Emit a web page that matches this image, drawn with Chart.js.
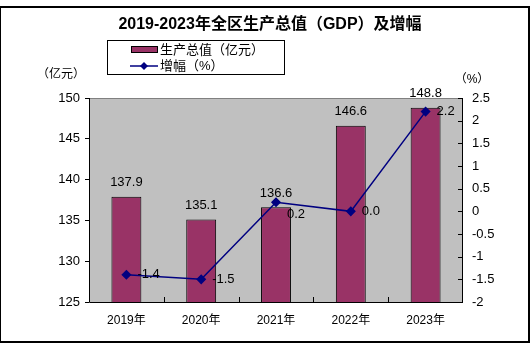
<!DOCTYPE html>
<html>
<head>
<meta charset="utf-8">
<script src="https://cdn.jsdelivr.net/npm/chart.js@4"></script>
<style>
    html, body { margin: 0; padding: 0; background: #fff; }
    #wrap { width: 531px; height: 350px; position: relative; }
</style>
</head>
<body>
<div id="wrap"><canvas id="gdpChart" width="531" height="350"></canvas></div>
<script>
// Chart data
const years = ['2019年', '2020年', '2021年', '2022年', '2023年'];
const gdpValues = [137.9, 135.1, 136.6, 146.6, 148.8];
const growthValues = [-1.4, -1.5, 0.2, 0.0, 2.2];
const gdpTicks = [125, 130, 135, 140, 145, 150];
const growthTicks = [-2, -1.5, -1, -0.5, 0, 0.5, 1, 1.5, 2, 2.5];

const fontNum = 'Arial, "Liberation Sans", sans-serif';
const fontCjk = '"Liberation Sans", "Noto Sans CJK SC", sans-serif';

// Draws frame, plot background, title, units, legend, custom ticks and value labels
const decorPlugin = {
    id: 'decor',
    beforeDraw(chart) {
        const ctx = chart.ctx;
        const a = chart.chartArea;
        ctx.save();
        ctx.fillStyle = '#fff';
        ctx.fillRect(0, 0, chart.width, chart.height);
        // outer frame
        ctx.strokeStyle = '#000';
        ctx.lineWidth = 2;
        ctx.strokeRect(0, 7, 529, 335);
        // plot background
        ctx.fillStyle = '#c0c0c0';
        ctx.fillRect(a.left, a.top, a.right - a.left, a.bottom - a.top);
        ctx.restore();
    },
    afterDatasetsDraw(chart) {
        const ctx = chart.ctx;
        const a = chart.chartArea;
        const yR = chart.scales.y1;
        const x = chart.scales.x;
        ctx.save();

        // plot border: top gray, others black
        ctx.lineWidth = 1;
        ctx.strokeStyle = '#808080';
        ctx.beginPath();
        ctx.moveTo(a.left, a.top + 0.5);
        ctx.lineTo(a.right, a.top + 0.5);
        ctx.stroke();
        ctx.strokeStyle = '#000';
        ctx.beginPath();
        ctx.moveTo(a.left + 0.5, a.top);
        ctx.lineTo(a.left + 0.5, a.bottom + 0.5);
        ctx.lineTo(a.right - 0.5, a.bottom + 0.5);
        ctx.lineTo(a.right - 0.5, a.top);
        ctx.stroke();

        // right axis ticks (inside)
        ctx.beginPath();
        growthTicks.forEach(function(v) {
            const py = Math.round(yR.getPixelForValue(v)) + 0.5;
            ctx.moveTo(a.right - 5, py);
            ctx.lineTo(a.right, py);
        });
        // x axis ticks between categories (inside)
        for (let i = 1; i < years.length; i++) {
            const px = Math.round((x.getPixelForValue(i - 1) + x.getPixelForValue(i)) / 2) + 0.5;
            ctx.moveTo(px, a.bottom);
            ctx.lineTo(px, a.bottom - 5);
        }
        ctx.stroke();

        // bar value labels
        ctx.fillStyle = '#000';
        ctx.font = '13px ' + fontNum;
        ctx.textAlign = 'center';
        ctx.textBaseline = 'middle';
        const barMeta = chart.getDatasetMeta(0);
        barMeta.data.forEach(function(bar, i) {
            ctx.fillText(gdpValues[i].toFixed(1), bar.x, bar.y - 14);
        });

        // growth value labels
        ctx.textAlign = 'left';
        const lineMeta = chart.getDatasetMeta(1);
        lineMeta.data.forEach(function(pt, i) {
            const dy = i === 2 ? 12 : 0;
            ctx.fillText(growthValues[i].toFixed(1), pt.x + 11, pt.y + dy);
        });

        ctx.restore();
    },
    afterDraw(chart) {
        const ctx = chart.ctx;
        ctx.save();
        ctx.fillStyle = '#000';
        ctx.textBaseline = 'middle';

        // title
        ctx.font = 'bold 16px ' + fontCjk;
        ctx.textAlign = 'center';
        ctx.fillText('2019-2023年全区生产总值（GDP）及增幅', 270, 25);

        // unit labels
        ctx.font = '12px ' + fontCjk;
        ctx.fillText('（亿元）', 61, 75);
        ctx.fillText('（%）', 472, 80);

        // legend
        ctx.lineWidth = 1;
        ctx.strokeStyle = '#000';
        ctx.strokeRect(107.5, 40.5, 177, 34);
        ctx.fillStyle = '#993366';
        ctx.fillRect(131, 46, 27, 7);
        ctx.strokeRect(131.5, 46.5, 26, 6);
        ctx.strokeStyle = '#000080';
        ctx.lineWidth = 1.5;
        ctx.beginPath();
        ctx.moveTo(130, 66);
        ctx.lineTo(158, 66);
        ctx.stroke();
        ctx.fillStyle = '#000080';
        ctx.beginPath();
        ctx.moveTo(144, 62);
        ctx.lineTo(148, 66);
        ctx.lineTo(144, 70);
        ctx.lineTo(140, 66);
        ctx.closePath();
        ctx.fill();
        ctx.fillStyle = '#000';
        ctx.textAlign = 'left';
        ctx.font = '13px ' + fontCjk;
        ctx.fillText(chart.data.datasets[0].label, 160, 50);
        ctx.fillText(chart.data.datasets[1].label, 160, 66);
        ctx.restore();
    }
};

const ctx = document.getElementById('gdpChart').getContext('2d');
const gdpChart = new Chart(ctx, {
    type: 'bar',
    data: {
        labels: years,
        datasets: [{
            label: '生产总值（亿元）',
            data: gdpValues,
            backgroundColor: '#993366',
            borderColor: '#000',
            borderWidth: 1,
            borderSkipped: false,
            barPercentage: 0.8,
            categoryPercentage: 0.5,
            yAxisID: 'y',
            order: 2
        }, {
            type: 'line',
            label: '增幅（%）',
            data: growthValues,
            borderColor: '#000080',
            backgroundColor: '#000080',
            borderWidth: 1.5,
            pointStyle: 'rectRot',
            pointRadius: 4,
            pointHoverRadius: 4,
            tension: 0,
            yAxisID: 'y1',
            order: 1
        }]
    },
    options: {
        responsive: false,
        animation: false,
        devicePixelRatio: 1,
        layout: { padding: { left: 0, right: 0, top: 98, bottom: 0 } },
        plugins: {
            legend: { display: false },
            title: { display: false },
            tooltip: { enabled: false }
        },
        scales: {
            x: {
                grid: { display: false, drawTicks: false },
                border: { display: false },
                ticks: {
                    color: '#000',
                    font: { size: 12, family: fontCjk },
                    padding: 11
                },
                afterFit(scale) { scale.height = 48; }
            },
            y: {
                position: 'left',
                min: 125,
                max: 150,
                afterBuildTicks(scale) {
                    scale.ticks = gdpTicks.map(function(v) { return { value: v }; });
                },
                grid: { drawOnChartArea: false, tickLength: 4, color: '#000' },
                border: { display: false },
                ticks: {
                    color: '#000',
                    font: { size: 13, family: fontNum },
                    padding: 5,
                    callback: function(v) { return String(v); }
                },
                afterFit(scale) { scale.width = 89; }
            },
            y1: {
                position: 'right',
                min: -2,
                max: 2.5,
                afterBuildTicks(scale) {
                    scale.ticks = growthTicks.map(function(v) { return { value: v }; });
                },
                grid: { display: false, drawTicks: false },
                border: { display: false },
                ticks: {
                    color: '#000',
                    font: { size: 13, family: fontNum },
                    padding: 9,
                    callback: function(v) { return String(v); }
                },
                afterFit(scale) { scale.width = 68; }
            }
        }
    },
    plugins: [decorPlugin]
});
</script>
</body>
</html>
